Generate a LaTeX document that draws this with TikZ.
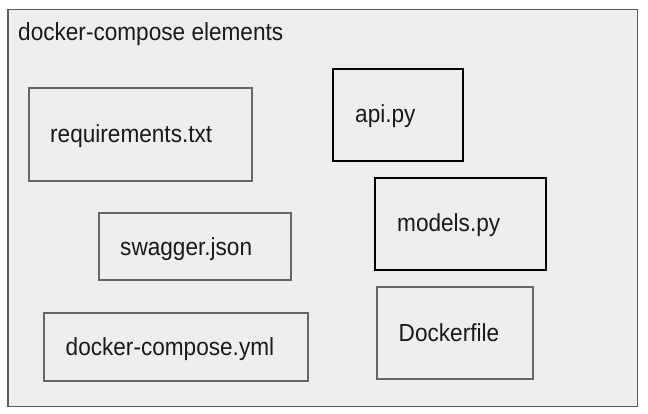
\documentclass[tikz,border=0pt]{standalone}
\usepackage{fontspec}
\setmainfont{Liberation Sans}
\definecolor{bgfill}{HTML}{EEEEEE}
\definecolor{outerline}{HTML}{5A5A5A}
\definecolor{boxline}{HTML}{666666}
\definecolor{txt}{HTML}{1A1A1A}
\newcommand{\hsq}[1]{\scalebox{0.915}[1]{#1}}
\begin{document}
\begin{tikzpicture}[x=1pt,y=-1pt,
  outerbox/.style={draw=outerline,line width=1.6pt,fill=bgfill},
  graybox/.style={draw=boxline,line width=2pt,anchor=north west,inner sep=0pt,outer sep=0pt},
  blackbox/.style={draw=black,line width=2pt,anchor=north west,inner sep=0pt,outer sep=0pt},
  lbl/.style={anchor=base west,inner sep=0pt,text=txt,font=\fontsize{24.7}{28}\selectfont}]
\useasboundingbox (0,0) rectangle (648,413);
\node[outerbox,anchor=north west,inner sep=0pt,minimum width=629.5pt,minimum height=397pt] (frame) at (7,8.5) {};
\node[lbl] (title) at (18,40.5) {\hsq{docker-compose elements}};
% boxes
\node[graybox,minimum width=223pt,minimum height=93pt] (req) at (29,88) {};
\node[blackbox,minimum width=130pt,minimum height=92pt] (api) at (333,69) {};
\node[graybox,minimum width=192pt,minimum height=67pt] (swag) at (98.5,212.5) {};
\node[blackbox,minimum width=171pt,minimum height=92pt] (models) at (375,178) {};
\node[graybox,minimum width=264pt,minimum height=68pt] (compose) at (44,313) {};
\node[graybox,minimum width=156pt,minimum height=92pt] (dockerf) at (377,286.5) {};
% labels
\node[lbl] (reqt) at (50,142) {\hsq{requirements.txt}};
\node[lbl] (apit) at (355,122.5) {\hsq{api.py}};
\node[lbl] (swagt) at (120,255) {\hsq{swagger.json}};
\node[lbl] (modelst) at (397,231.5) {\hsq{models.py}};
\node[lbl] (composet) at (65.5,355) {\hsq{docker-compose.yml}};
\node[lbl] (dockerft) at (398.5,341) {\hsq{Dockerfile}};
\end{tikzpicture}
\end{document}
